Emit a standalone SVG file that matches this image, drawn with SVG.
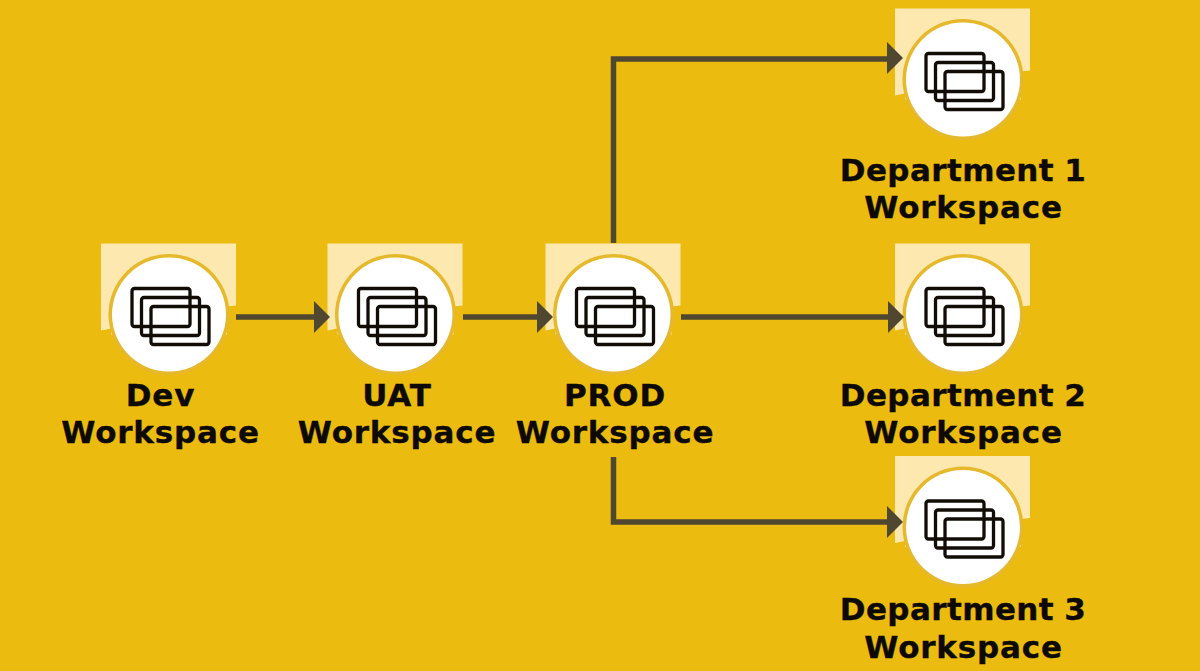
<svg xmlns="http://www.w3.org/2000/svg" xmlns:xlink="http://www.w3.org/1999/xlink" width="1200" height="671" viewBox="0 0 1200 671">
<style>
.lbl{font-family:"DejaVu Sans",sans-serif;font-weight:700;font-size:31px;fill:#0d0a05;stroke:#0d0a05;stroke-width:.35;text-anchor:middle;letter-spacing:.8px}
.dept{letter-spacing:.4px;word-spacing:-1px}
.conn{fill:none;stroke:#4f472f;stroke-width:5.5}
.head{fill:#4f472f}
.paper{fill:#fde9b0}
.ring{fill:#ffffff}
.halo{fill:#e6b82c}
.card{fill:none;stroke:#120c06;stroke-width:3.3}
</style>
<defs>
<g id="icon">
<path class="paper" d="M-68,-71H67V-9L58,-8V20H-58V14L-68,16Z"/>
<circle class="halo" r="60.5"/>
<circle class="ring" r="57"/>
<rect class="card" x="-37" y="-26" width="58" height="38" rx="2.500"/>
<rect class="card" x="-27.500" y="-17" width="58" height="38" rx="2.500"/>
<rect class="card" x="-18" y="-8" width="58" height="38" rx="2.500"/>
</g>
</defs>
<rect width="1200" height="671" fill="#ebbb10"/>
<g id="node-dev"><use href="#icon" xlink:href="#icon" x="169" y="314.500"/><text class="lbl" x="160.500" y="406">Dev</text><text class="lbl" x="160.500" y="443">Workspace</text></g>
<g id="node-uat"><use href="#icon" xlink:href="#icon" x="395.500" y="314.500"/><text class="lbl" x="397" y="406">UAT</text><text class="lbl" x="397" y="443">Workspace</text></g>
<g id="node-prod"><use href="#icon" xlink:href="#icon" x="613.500" y="314.500"/><text class="lbl" x="615" y="406">PROD</text><text class="lbl" x="615" y="443">Workspace</text></g>
<g id="node-dept1"><use href="#icon" xlink:href="#icon" x="963" y="79.500"/><text class="lbl dept" x="963" y="181">Department 1</text><text class="lbl" x="963.500" y="218">Workspace</text></g>
<g id="node-dept2"><use href="#icon" xlink:href="#icon" x="963" y="314.500"/><text class="lbl dept" x="963" y="406">Department 2</text><text class="lbl" x="963.500" y="443">Workspace</text></g>
<g id="node-dept3"><use href="#icon" xlink:href="#icon" x="963" y="527"/><text class="lbl dept" x="963" y="620">Department 3</text><text class="lbl" x="963.500" y="658">Workspace</text></g>
<g id="connectors">
<path class="conn" d="M236,317H316"/><path class="head" d="M314,301L330,317L314,333Z"/>
<path class="conn" d="M463,317H539"/><path class="head" d="M537,301L553,317L537,333Z"/>
<path class="conn" d="M681,317H890"/><path class="head" d="M888,301L904,317L888,333Z"/>
<path class="conn" d="M613.500,243V59H889"/><path class="head" d="M887,42L903,58L887,74Z"/>
<path class="conn" d="M613.500,457V522H889"/><path class="head" d="M887,506L903,522L887,538Z"/>
</g>
</svg>
